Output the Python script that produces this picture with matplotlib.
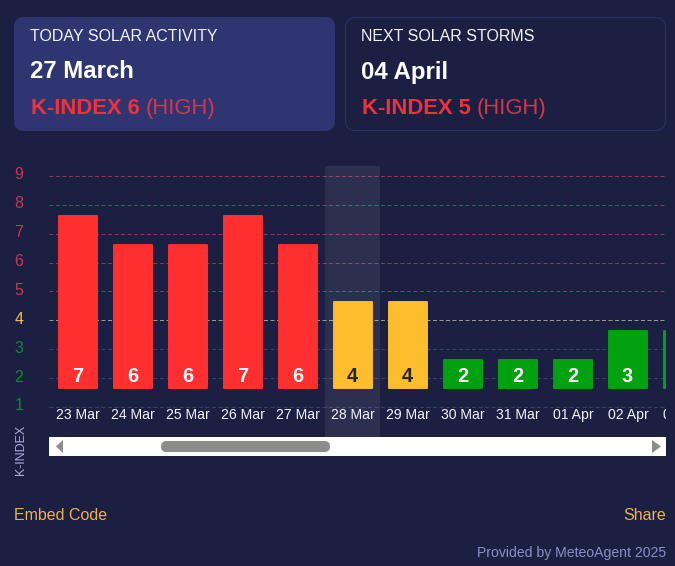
import matplotlib
matplotlib.use("Agg")
import matplotlib.pyplot as plt
from matplotlib.patches import FancyBboxPatch, Rectangle, Polygon

plt.rcParams['font.family'] = ['Liberation Sans', 'DejaVu Sans']

dates = ['23 Mar', '24 Mar', '25 Mar', '26 Mar', '27 Mar', '28 Mar', '29 Mar',
         '30 Mar', '31 Mar', '01 Apr', '02 Apr', '03 Apr']
kindex = [7, 6, 6, 7, 6, 4, 4, 2, 2, 2, 3, 3]
levels = [1, 2, 3, 4, 5, 6, 7, 8, 9]
highlight = '28 Mar'

W, H = 675, 566
BG = '#1b1f42'
RED, AMBER, GREEN = '#ff2f2f', '#fdbd2c', '#02a10f'


def px(v):
    return v * 72 / 100


def bar_color(v):
    return RED if v >= 5 else AMBER if v == 4 else GREEN


def level_color(v):
    return '#c9374f' if v >= 5 else '#f5bf4e' if v == 4 else '#128a32'


def grid_color(v):
    return '#8a3a58' if v >= 5 else '#9a9890' if v == 4 else '#3a3f66'


fig = plt.figure(figsize=(W / 100, H / 100), dpi=100, facecolor=BG)

# page layer, in pixels
bg = fig.add_axes([0, 0, 1, 1])
bg.set_xlim(0, W)
bg.set_ylim(H, 0)
bg.axis('off')

bg.add_patch(FancyBboxPatch((14, 17), 321, 114, boxstyle='round,pad=0,rounding_size=10',
                            fc='#2e3571', ec='none'))
bg.add_patch(FancyBboxPatch((345.5, 17.5), 320, 113, boxstyle='round,pad=0,rounding_size=10',
                            fc=BG, ec='#2d3266', lw=0.7))

for x0, x1, title, day, k in [(30, 146, 'TODAY SOLAR ACTIVITY', '27 March', 'K-INDEX 6'),
                              (361, 477, 'NEXT SOLAR STORMS', '04 April', 'K-INDEX 5')]:
    bg.text(x0, 36.5, title, color='#f2f3fa', fontsize=px(16), va='center', ha='left')
    bg.text(x0, 72, day, color='white', fontsize=px(24), fontweight='bold', va='center', ha='left')
    bg.text(x0 + 1, 108.5, k, color='#f0303a', fontsize=px(22), fontweight='bold', va='center', ha='left')
    bg.text(x1, 108.5, '(HIGH)', color='#d2384c', fontsize=px(22), va='center', ha='left')

# chart
L, R, T, B = 49, 666, 166, 437
ax = fig.add_axes([L / W, 1 - B / H, (R - L) / W, (B - T) / H])
ax.set_facecolor('none')
ax.set_xlim((L - 78) / 55, (R - 78) / 55)
ax.set_ylim(1 - (B - 407) / 28.9, 1 + (407 - T) / 28.9)
for s in ax.spines.values():
    s.set_visible(False)

for v in levels:
    ax.axhline(v, color=grid_color(v), lw=0.72, ls=(0, (4, 2.5)), zorder=1)

hi = dates.index(highlight)
ax.axvspan(hi - 0.5, hi + 0.5, color='#ffffff', alpha=0.08, lw=0, zorder=2)

xs = list(range(len(dates)))
colors = [bar_color(v) for v in kindex]
bars = ax.bar(xs, [v - 1.03 for v in kindex], bottom=1.65, width=0.70,
              color=colors, edgecolor=colors, linewidth=1.4, zorder=3)
for b in bars:
    b.set_joinstyle('round')

for x, v in zip(xs, kindex):
    ax.text(x - 0.01, 2.07, str(v), color='#2a2526' if v == 4 else 'white', fontsize=px(20),
            fontweight='bold', ha='center', va='center', zorder=4, clip_on=True)

ax.set_xticks([])
ax.set_yticks([])
for x, d in zip(xs, dates):
    ax.text(x, 0.73, d, color='#f2f3fa', fontsize=px(14), ha='center', va='center',
            clip_on=True, zorder=4)

for v in levels:
    bg.text(19, 407 - (v - 1) * 28.9 - 1, str(v), color=level_color(v), fontsize=px(16),
            ha='center', va='center')

bg.text(21, 450, 'K-INDEX', color='#a9add8', fontsize=px(12.5), rotation=90, ha='center', va='center')

# scrollbar
top = fig.add_axes([0, 0, 1, 1], facecolor='none')
top.set_xlim(0, W)
top.set_ylim(H, 0)
top.axis('off')
top.add_patch(Rectangle((49, 437), 617, 19, fc='white', ec='none'))
top.add_patch(FancyBboxPatch((161, 441), 169, 11, boxstyle='round,pad=0,rounding_size=5.5',
                             fc='#8c8c8c', ec='none'))
top.add_patch(Polygon([(56, 446.5), (63, 440), (63, 453)], fc='#8c8c8c', ec='none'))
top.add_patch(Polygon([(661, 446.5), (652, 440), (652, 453)], fc='#8c8c8c', ec='none'))

top.text(14, 516, 'Embed Code', color='#f0b04e', fontsize=px(16), ha='left', va='center')
top.text(666, 516, 'Share', color='#f0b04e', fontsize=px(16), ha='right', va='center')
top.text(666, 553.5, 'Provided by MeteoAgent 2025', color='#8b8fc6', fontsize=px(14), ha='right', va='center')

fig.savefig('out.png', dpi=100, facecolor=BG)
